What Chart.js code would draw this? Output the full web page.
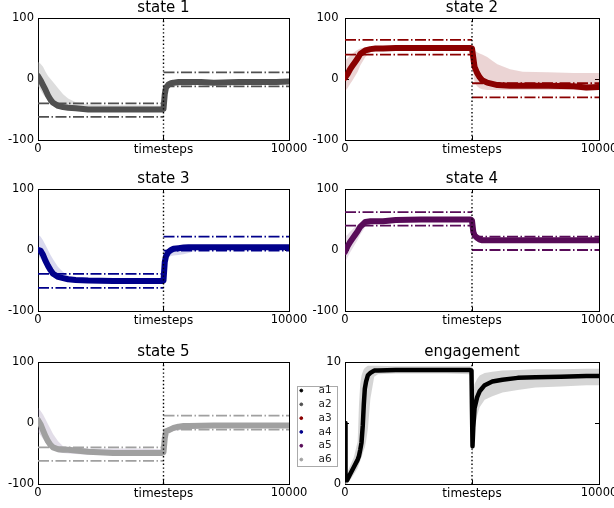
<!DOCTYPE html>
<html lang="en">
<head>
<meta charset="UTF-8">
<title>states and engagement</title>
<script src="https://cdn.jsdelivr.net/npm/chart.js"></script>
<style>
  body { margin: 0; background: #fff; }
  #fig { position: relative; width: 614px; height: 508px; overflow: hidden; }
  #fig canvas { position: absolute; }
  #legendBox { position: absolute; left: 297px; top: 386px; width: 41px; height: 81px;
               border: 1px solid #aaa; box-sizing: border-box; }
</style>
</head>
<body>
<div id="fig">
  <div id="legendBox"></div>
  <canvas id="s1" width="331" height="158" style="left:-2px;top:0px"></canvas>
  <canvas id="s2" width="334" height="158" style="left:305px;top:0px"></canvas>
  <canvas id="s3" width="331" height="158" style="left:-2px;top:171px"></canvas>
  <canvas id="s4" width="334" height="158" style="left:305px;top:171px"></canvas>
  <canvas id="s5" width="331" height="158" style="left:-2px;top:344px"></canvas>
  <canvas id="eng" width="334" height="158" style="left:305px;top:344px"></canvas>
  <canvas id="leg" width="80" height="96" style="left:296px;top:382px"></canvas>
</div>

<script>
// ---- data ----
const switchStep = 5000;
const lastStep = 10000;
const steps = [0, 100, 200, 300, 400, 500, 600, 800, 1000, 1200, 1500, 2000, 3000, 4000, 4950,
               5000, 5050, 5100, 5200, 5300, 5400, 5600, 5800, 6000, 6500, 7000, 8000, 9000, 9500, 10000];

// state 1
const s1Mean = [5, -2, -10, -18, -27, -34, -39, -44, -46, -47, -48, -50, -50, -50, -50,
                -49, -25, -14, -9, -7, -6, -5, -5, -5, -5, -6, -5, -5, -5, -4];
const s1Lo = [-12, -18, -25, -30, -36, -40, -43, -48, -50, -51, -52, -52, -52, -52, -52,
              -52, -40, -22, -15, -13, -12, -12, -12, -11, -9, -8, -7, -7, -7, -6];
const s1Hi = [28, 25, 20, 12, 5, 0, -5, -15, -25, -32, -38, -42, -43, -43, -44,
              -44, -15, -8, -6, -5, -4, -4, -4, -4, -4, -4, -4, -4, -4, -3];
const s1Bounds = [[-40, -62], [11, -12]];

// state 2
const s2Mean = [2, 8, 16, 22, 28, 34, 41, 47, 49, 50, 50, 51, 51, 51, 51,
                50, 35, 20, 10, 3, -2, -6, -8, -10, -11, -11, -11, -12, -14, -13];
const s2Lo = [-20, -15, -8, -2, 5, 12, 22, 36, 44, 47, 48, 48, 48, 48, 48,
              40, 10, -5, -12, -15, -17, -18, -18, -18, -18, -18, -18, -18, -19, -18];
const s2Hi = [30, 34, 38, 42, 45, 48, 50, 52, 52, 53, 53, 53, 53, 53, 53,
              53, 50, 47, 44, 42, 40, 36, 30, 24, 16, 12, 11, 10, 10, 10];
const s2Bounds = [[64, 40], [-7, -30]];

// state 3
const s3Mean = [0, -1, -8, -18, -26, -33, -39, -44, -46, -48, -49, -50, -51, -51, -51,
                -50, -20, -10, -3, 0, 2, 3, 4, 4.5, 4.5, 4.5, 4.5, 4.5, 4.5, 4.5];
const s3Lo = [-10, -14, -20, -28, -34, -38, -42, -47, -50, -52, -53, -53, -53, -53, -53,
              -53, -32, -18, -12, -10, -9, -8, -7, -5, 2, 3, 3, 3, 3, 3];
const s3Hi = [25, 22, 16, 8, 0, -8, -15, -28, -36, -42, -45, -47, -48, -48, -48,
              -46, -8, -2, 1, 3, 4, 5, 6, 6, 6, 6, 6, 6, 6, 6];
const s3Bounds = [[-39, -62], [22, -1]];

// state 4
const s4Mean = [-3, 6, 13, 19, 25, 31, 38, 46, 47, 47, 47, 49, 50, 50, 50,
                48, 30, 24, 20, 17, 16, 16, 16, 16, 16, 16, 16, 16, 16, 16];
const s4Lo = [-20, -12, -4, 3, 10, 17, 25, 38, 42, 44, 45, 47, 48, 48, 48,
              40, 22, 18, 15, 14, 14, 14, 14, 14, 14.5, 14.5, 14.5, 14.5, 14.5, 14.5];
const s4Hi = [22, 25, 30, 34, 38, 42, 45, 49, 50, 50, 50, 51, 52, 52, 52,
              52, 36, 30, 26, 24, 22, 20, 19, 18, 17.5, 17.5, 17.5, 17.5, 17.5, 17.5];
const s4Bounds = [[62, 40], [22, 0]];

// state 5
const s5Mean = [5, -2, -12, -22, -30, -36, -40, -43, -44, -44, -45, -47, -49, -49, -49,
                -48, -25, -14, -12, -10, -8, -6, -5, -5, -4.5, -4, -4, -4, -4, -4];
const s5Lo = [-15, -20, -26, -32, -36, -40, -44, -48, -49, -50, -51, -52, -52, -52, -52,
              -52, -35, -22, -16, -14, -13, -12, -11, -10, -8, -7, -6, -6, -6, -6];
const s5Hi = [25, 20, 14, 6, -2, -10, -18, -30, -38, -40, -41, -42, -42, -42, -43,
              -42, -12, -9, -8, -7, -5, -3, -2, -2, -2, -2, -2, -2, -2, -2];
const s5Bounds = [[-40, -62], [12, -11]];

// engagement
const engSteps = [0, 20, 80, 200, 350, 500, 550, 600, 650, 700, 740, 780, 830, 900, 1000, 1150, 1300,
                  2000, 3000, 4000, 4900, 4980, 5000, 5020, 5050, 5100, 5200, 5300, 5500, 5800,
                  6200, 6800, 7500, 8500, 9500, 10000];
const engMean = [5, 0.3, 0.3, 0.8, 1.4, 2.0, 2.3, 2.8, 3.4, 4.8, 6.5, 7.8, 8.4, 8.9, 9.1, 9.3, 9.3,
                 9.35, 9.35, 9.35, 9.35, 9.3, 6.0, 3.1, 4.6, 6.2, 7.1, 7.6, 8.1, 8.4,
                 8.55, 8.7, 8.75, 8.8, 8.85, 8.85];
const engLo = [4.5, 0, 0, 0.3, 0.8, 1.3, 1.6, 1.9, 2.2, 2.5, 2.8, 3.0, 3.5, 4.5, 7.0, 8.8, 9.0,
               9.05, 9.05, 9.05, 9.0, 8.5, 3.0, 2.4, 3.5, 4.5, 5.6, 6.3, 6.9, 7.2,
               7.5, 7.7, 7.9, 8.0, 8.1, 8.1];
const engHi = [5.5, 0.8, 0.9, 1.5, 2.2, 3.5, 6.5, 8.2, 8.9, 9.2, 9.4, 9.5, 9.6, 9.7, 9.7, 9.7, 9.7,
               9.65, 9.65, 9.65, 9.65, 9.65, 9.6, 8.5, 7.5, 8.2, 8.6, 8.9, 9.1, 9.2,
               9.3, 9.35, 9.4, 9.4, 9.45, 9.45];

const agents = ['a1', 'a2', 'a3', 'a4', 'a5', 'a6'];

// ---- styles ----
const agentColors = ['#000000', '#505050', '#8b0000', '#00008b', '#580b58', '#a0a0a0'];
const bandColors = {
  s1: 'rgba(180,180,180,0.45)',
  s2: 'rgba(139,0,0,0.17)',
  s3: 'rgba(0,0,139,0.15)',
  s4: 'rgba(88,11,88,0.15)',
  s5: 'rgba(140,120,165,0.25)',
  eng: 'rgba(190,190,190,0.65)'
};

Chart.defaults.font.family = "'DejaVu Sans', sans-serif";
Chart.defaults.color = '#000';

function pts(xs, ys) {
  return xs.map((x, i) => ({ x: x, y: ys[i] }));
}

function bandSets(xs, lo, hi, color) {
  return [
    { data: pts(xs, lo), borderWidth: 0, borderColor: 'transparent', pointRadius: 0, fill: false, order: 9 },
    { data: pts(xs, hi), borderWidth: 0, borderColor: 'transparent', backgroundColor: color,
      pointRadius: 0, fill: '-1', order: 8 }
  ];
}

function boundSets(bounds, color) {
  const halves = [[0, switchStep], [switchStep, lastStep]];
  const out = [];
  bounds.forEach((levels, h) => {
    levels.forEach(v => {
      out.push({
        data: [{ x: halves[h][0], y: v }, { x: halves[h][1], y: v }],
        borderColor: color, borderWidth: 1.8, borderDash: [11, 2.5, 1.5, 2.5],
        pointRadius: 0, fill: false, order: 6
      });
    });
  });
  return out;
}

function meanSet(xs, ys, color, width) {
  return { data: pts(xs, ys), borderColor: color, borderWidth: width, borderCapStyle: 'round',
           borderJoinStyle: 'round', pointRadius: 0, fill: false, order: 3 };
}

function splitSet(yMin, yMax) {
  return { data: [{ x: switchStep, y: yMin }, { x: switchStep, y: yMax }], borderColor: '#000',
           borderWidth: 1.4, borderDash: [1.4, 2.4], pointRadius: 0, fill: false, order: 1 };
}

function frameScales(yMin, yMax, yStep, yLabel, labelPad) {
  const edge = { display: true, color: '#000', width: 1 };
  const inTicks = { display: true, drawOnChartArea: false, drawTicks: true, tickLength: -4, color: '#000' };
  return {
    x: {
      type: 'linear', axis: 'x', position: 'bottom', min: 0, max: lastStep,
      ticks: { stepSize: switchStep, autoSkip: false, maxRotation: 0, padding: 6.3, font: { size: 11.5 },
               callback: v => (v === switchStep ? '' : String(v)) },
      grid: inTicks, border: edge,
      title: { display: true, text: 'timesteps', font: { size: 12 }, padding: { top: 0, bottom: 0.45 } },
      afterFit: s => { s.height = 18; }
    },
    xTop: {
      type: 'linear', axis: 'x', position: 'top', min: 0, max: lastStep,
      ticks: { stepSize: switchStep, display: false },
      grid: inTicks, border: edge,
      afterFit: s => { s.height = 0; }
    },
    y: {
      type: 'linear', axis: 'y', position: 'left', min: yMin, max: yMax,
      ticks: { stepSize: yStep, padding: labelPad, font: { size: 11.5 }, callback: yLabel },
      grid: inTicks, border: edge,
      afterFit: s => { s.width = 40; }
    },
    yRight: {
      type: 'linear', axis: 'y', position: 'right', min: yMin, max: yMax,
      ticks: { stepSize: yStep, display: false },
      grid: inTicks, border: edge,
      afterFit: s => { s.width = 40; }
    }
  };
}

function panel(id, title, datasets, scales) {
  datasets.forEach(d => { d.xAxisID = 'x'; d.yAxisID = 'y'; });
  return new Chart(document.getElementById(id), {
    type: 'line',
    data: { datasets: datasets },
    options: {
      responsive: false,
      animation: false,
      events: [],
      layout: { padding: 0 },
      scales: scales,
      plugins: {
        legend: { display: false },
        tooltip: { enabled: false },
        title: { display: true, text: title, font: { size: 15, weight: 'normal' },
                 color: '#000', padding: { top: -1, bottom: 1 } }
      }
    }
  });
}

const stateLabel = v => String(v);
const states = [
  { id: 's1', title: 'state 1', mean: s1Mean, lo: s1Lo, hi: s1Hi, bounds: s1Bounds, color: agentColors[1], band: bandColors.s1, pad: 8 },
  { id: 's2', title: 'state 2', mean: s2Mean, lo: s2Lo, hi: s2Hi, bounds: s2Bounds, color: agentColors[2], band: bandColors.s2, pad: 10.5 },
  { id: 's3', title: 'state 3', mean: s3Mean, lo: s3Lo, hi: s3Hi, bounds: s3Bounds, color: agentColors[3], band: bandColors.s3, pad: 8 },
  { id: 's4', title: 'state 4', mean: s4Mean, lo: s4Lo, hi: s4Hi, bounds: s4Bounds, color: agentColors[4], band: bandColors.s4, pad: 10.5 },
  { id: 's5', title: 'state 5', mean: s5Mean, lo: s5Lo, hi: s5Hi, bounds: s5Bounds, color: agentColors[5], band: bandColors.s5, pad: 8 }
];

states.forEach(s => {
  const sets = [].concat(
    bandSets(steps, s.lo, s.hi, s.band),
    boundSets(s.bounds, s.color),
    [meanSet(steps, s.mean, s.color, 6), splitSet(-100, 100)]
  );
  panel(s.id, s.title, sets, frameScales(-100, 100, 100, stateLabel, s.pad));
});

panel('eng', 'engagement',
  [].concat(bandSets(engSteps, engLo, engHi, bandColors.eng),
            [meanSet(engSteps, engMean, agentColors[0], 4.5), splitSet(0, 10)]),
  frameScales(0, 10, 5, v => (v === 5 ? '' : String(v)), 8));

// legend for the six agents
new Chart(document.getElementById('leg'), {
  type: 'line',
  data: {
    datasets: agents.map((a, i) => ({
      label: a, data: [], borderColor: agentColors[i], backgroundColor: agentColors[i], pointStyle: 'circle'
    }))
  },
  options: {
    responsive: false,
    animation: false,
    events: [],
    layout: { padding: 0 },
    scales: { x: { display: false }, y: { display: false } },
    plugins: {
      tooltip: { enabled: false },
      legend: {
        position: 'left', align: 'start',
        labels: { usePointStyle: true, pointStyle: 'circle', boxWidth: 4, boxHeight: 2,
                  padding: 3.3, color: '#222', textAlign: 'right', font: { size: 10.5 } }
      }
    }
  }
});
</script>
</body>
</html>
